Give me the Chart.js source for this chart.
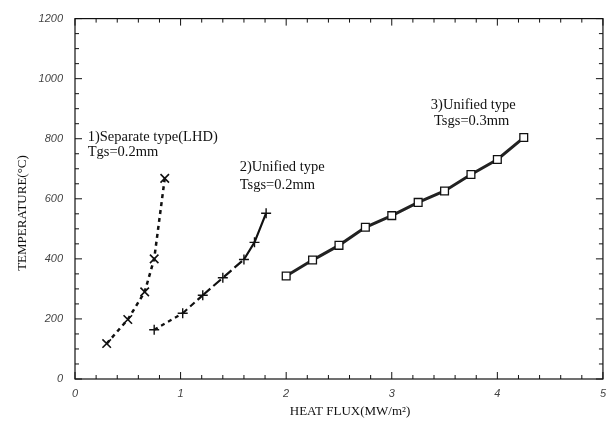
<!DOCTYPE html>
<html>
<head>
<meta charset="utf-8">
<script src="https://cdn.jsdelivr.net/npm/chart.js@4"></script>
<style>
  html, body { margin: 0; padding: 0; background: #fff; }
  #wrap { width: 614px; height: 427px; position: relative; }
</style>
</head>
<body>
<div id="wrap"><canvas id="heatChart"></canvas></div>
<script>
// Data
const sepX = [0.30, 0.50, 0.66, 0.75, 0.85];
const sepY = [118, 198, 290, 400, 668];

const uni2X = [0.75, 1.02, 1.21, 1.40, 1.60, 1.70, 1.81];
const uni2Y = [164, 219, 279, 337, 398, 455, 552];

const uni3X = [2.0, 2.25, 2.5, 2.75, 3.0, 3.25, 3.5, 3.75, 4.0, 4.25];
const uni3Y = [343, 396, 445, 505, 544, 588, 626, 681, 731, 804];

const xTicks = [0, 1, 2, 3, 4, 5];
const yTicks = [0, 200, 400, 600, 800, 1000, 1200];

// annotation labels: [text, x value, y value]
const notes = [
    ['1)Separate type(LHD)', 0.12, 804],
    ['Tgs=0.2mm', 0.12, 755],
    ['2)Unified type', 1.56, 706],
    ['Tsgs=0.2mm', 1.56, 646],
    ['3)Unified type', 3.37, 913],
    ['Tsgs=0.3mm', 3.40, 857]
];

const toPoints = (xs, ys) => xs.map((v, i) => ({ x: v, y: ys[i] }));

// frame, inward ticks, titles and notes
const framePlugin = {
    id: 'frame',
    afterDraw(chart) {
        const { ctx, chartArea: { left, right, top, bottom }, scales: { x, y } } = chart;
        ctx.save();
        ctx.strokeStyle = '#111';
        ctx.lineWidth = 1.2;
        ctx.strokeRect(left, top, right - left, bottom - top);

        ctx.lineWidth = 1;
        for (let i = 0; i <= 25; i++) {
            const px = x.getPixelForValue(i * 0.2);
            const len = i % 5 === 0 ? 7 : 4;
            ctx.beginPath();
            ctx.moveTo(px, bottom); ctx.lineTo(px, bottom - len);
            ctx.moveTo(px, top); ctx.lineTo(px, top + len);
            ctx.stroke();
        }
        for (let i = 0; i <= 24; i++) {
            const py = y.getPixelForValue(i * 50);
            const len = i % 4 === 0 ? 7 : 4;
            ctx.beginPath();
            ctx.moveTo(left, py); ctx.lineTo(left + len, py);
            ctx.moveTo(right, py); ctx.lineTo(right - len, py);
            ctx.stroke();
        }

        ctx.fillStyle = '#111';
        ctx.font = '14.5px "Liberation Serif", serif';
        ctx.textBaseline = 'middle';
        ctx.textAlign = 'left';
        notes.forEach(([t, vx, vy]) => {
            ctx.fillText(t, x.getPixelForValue(vx), y.getPixelForValue(vy));
        });

        ctx.font = '13px "Liberation Serif", serif';
        ctx.textAlign = 'center';
        ctx.fillText('HEAT FLUX(MW/m\u00B2)', 350, 412);

        ctx.translate(23, 213);
        ctx.rotate(-Math.PI / 2);
        ctx.fillText('TEMPERATURE(\u00B0C)', 0, 0);
        ctx.restore();
    }
};

document.addEventListener('DOMContentLoaded', () => {
    const ctx = document.getElementById('heatChart');
    new Chart(ctx, {
        type: 'scatter',
        data: {
            datasets: [{
                label: '1)Separate type(LHD)',
                data: toPoints(sepX, sepY),
                showLine: true,
                borderColor: '#111',
                borderWidth: 2.5,
                borderDash: [4, 4],
                pointStyle: 'crossRot',
                pointRadius: 6,
                pointBorderWidth: 1.6,
                pointBorderColor: '#111'
            }, {
                label: '2)Unified type',
                data: toPoints(uni2X, uni2Y),
                showLine: true,
                borderColor: '#111',
                borderWidth: 2.2,
                segment: {
                    borderDash: c => {
                        const i = c.p0DataIndex;
                        if (i === 0) return [4, 4];
                        if (i === 1) return [6, 4];
                        if (i < 4) return [10, 4];
                        return [];
                    }
                },
                pointStyle: 'cross',
                pointRadius: 5,
                pointBorderWidth: 1.4,
                pointBorderColor: '#111'
            }, {
                label: '3)Unified type',
                data: toPoints(uni3X, uni3Y),
                showLine: true,
                borderColor: '#222',
                borderWidth: 3,
                pointStyle: 'rect',
                pointRadius: 5.5,
                pointBorderWidth: 1.3,
                pointBorderColor: '#111',
                pointBackgroundColor: '#fff'
            }]
        },
        options: {
            responsive: true,
            maintainAspectRatio: false,
            animation: false,
            layout: { padding: { left: 0, right: 7, top: 15, bottom: 0 } },
            plugins: {
                legend: { display: false },
                tooltip: { enabled: false }
            },
            scales: {
                x: {
                    type: 'linear',
                    min: 0,
                    max: 5,
                    afterFit: s => { s.height = 48; },
                    afterBuildTicks: s => { s.ticks = xTicks.map(v => ({ value: v })); },
                    grid: { display: false, drawTicks: false },
                    border: { display: false },
                    ticks: {
                        padding: 8,
                        color: '#444',
                        callback: v => String(v),
                        font: { family: '"Liberation Sans", Arial, sans-serif', size: 11, style: 'italic' },
                        maxRotation: 0
                    }
                },
                y: {
                    type: 'linear',
                    min: 0,
                    max: 1200,
                    afterFit: s => { s.width = 75; },
                    afterBuildTicks: s => { s.ticks = yTicks.map(v => ({ value: v })); },
                    grid: { display: false, drawTicks: false },
                    border: { display: false },
                    ticks: {
                        padding: 12,
                        color: '#444',
                        callback: v => String(v),
                        font: { family: '"Liberation Sans", Arial, sans-serif', size: 11, style: 'italic' }
                    }
                }
            }
        },
        plugins: [framePlugin]
    });
});
</script>
</body>
</html>
